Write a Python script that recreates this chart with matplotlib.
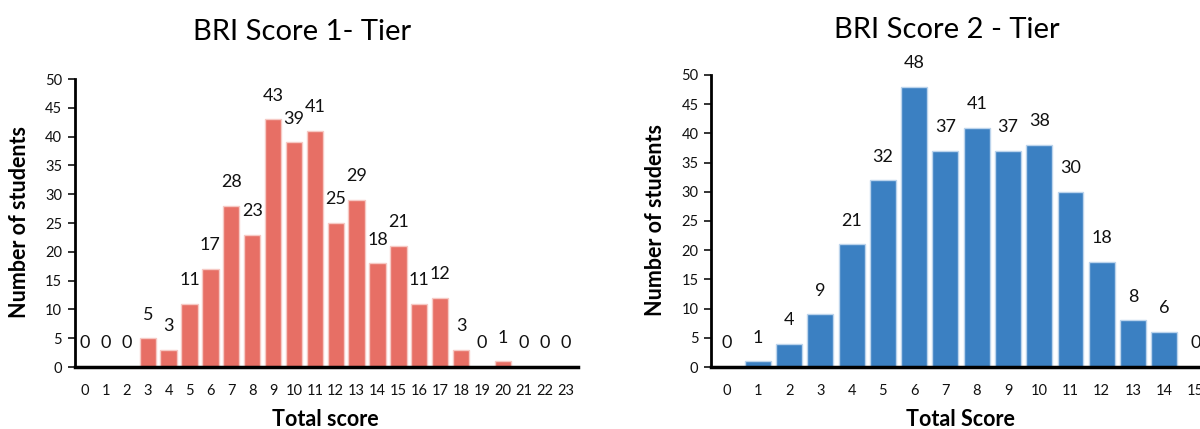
import matplotlib
matplotlib.use("Agg")
from matplotlib import pyplot as plt

plt.rcParams['font.family'] = ['Lato', 'DejaVu Sans']

# data
tier1_scores = list(range(24))
tier1_counts = [0, 0, 0, 5, 3, 11, 17, 28, 23, 43, 39, 41, 25, 29, 18, 21, 11, 12, 3, 0, 1, 0, 0, 0]
tier2_scores = list(range(16))
tier2_counts = [0, 1, 4, 9, 21, 32, 48, 37, 41, 37, 38, 30, 18, 8, 6, 0]

y_ticks = [0, 5, 10, 15, 20, 25, 30, 35, 40, 45, 50]

fig = plt.figure(figsize=(12, 4.29), dpi=100)

ax1 = fig.add_axes([0.0622, 0.1445, 0.4195, 0.6713])
ax2 = fig.add_axes([0.5925, 0.1445, 0.4168, 0.6807])


def style_axis(ax, scores, counts, color, edge, width, xmax):
    ax.bar(scores, counts, width=width, color=color, edgecolor=edge, linewidth=1.0, zorder=2)
    for x, v in zip(scores, counts):
        ax.annotate(str(v), (x, v), xytext=(0, 17), textcoords="offset points",
                    ha="center", va="center", fontsize=13, color="#111111")
    ax.set_xlim(-0.5, xmax)
    ax.set_ylim(0, 50)
    ax.set_yticks(y_ticks)
    ax.set_xticks(scores)
    ax.set_xticklabels([str(s) for s in scores])
    ax.tick_params(axis="x", length=0, pad=12, labelsize=10.5, colors="#111111")
    ax.tick_params(axis="y", length=5, width=1.2, pad=4, labelsize=10.5, colors="#111111")
    for side in ("top", "right"):
        ax.spines[side].set_visible(False)
    ax.spines["left"].set_linewidth(2)
    ax.spines["bottom"].set_linewidth(2.5)
    ax.set_facecolor("white")


style_axis(ax1, tier1_scores, tier1_counts, "#E76F65", "#F6C9C4", 0.78, 23.6)
style_axis(ax2, tier2_scores, tier2_counts, "#3B80C2", "#BCD4EC", 0.83, 15.5)

# titles and axis labels, placed as in the picture
fig.text(302 / 1200, 1 - 32 / 429, "BRI Score 1- Tier", fontsize=21, ha="center", va="center")
fig.text(947 / 1200, 1 - 30 / 429, "BRI Score 2 - Tier", fontsize=21, ha="center", va="center")
fig.text(20 / 1200, 1 - 222 / 429, "Number of students", fontsize=15.5, fontweight="bold",
         rotation=90, ha="center", va="center")
fig.text(656 / 1200, 1 - 220 / 429, "Number of students", fontsize=15.5, fontweight="bold",
         rotation=90, ha="center", va="center")
fig.text(325 / 1200, 1 - 419 / 429, "Total score", fontsize=15.5, fontweight="bold",
         ha="center", va="center")
fig.text(960 / 1200, 1 - 419 / 429, "Total Score", fontsize=15.5, fontweight="bold",
         ha="center", va="center")

fig.savefig("out.png", dpi=100)
